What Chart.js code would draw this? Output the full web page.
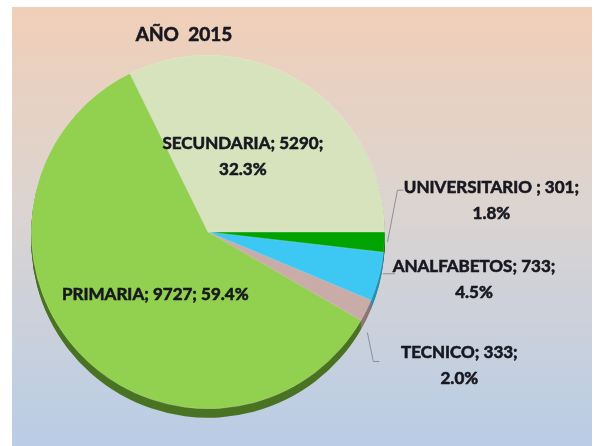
<!DOCTYPE html>
<html>
<head>
<meta charset="utf-8">
<script src="https://cdn.jsdelivr.net/npm/chart.js@4.4.1/dist/chart.umd.min.js"></script>
<style>
  body { margin: 0; background: #ffffff; }
  #fondo {
    position: absolute; left: 12px; top: 7px; width: 580px; height: 439px;
    background: linear-gradient(to bottom, #f0cfb8 0%, #dcd4d0 45%, #b9cde6 100%);
  }
  #grafico { position: absolute; left: 0; top: 0; }
</style>
</head>
<body>
<div id="fondo"></div>
<canvas id="grafico" width="595" height="446"></canvas>
<script>
let titulo = "AÑO  2015";
let categorias = ["UNIVERSITARIO ", "ANALFABETOS", "TECNICO", "PRIMARIA", "SECUNDARIA"];
let valores = [301, 733, 333, 9727, 5290];
let colores = ["#00a300", "#3cc8f2", "#c9aba8", "#92d050", "#d6e3bc"];
let coloresLado = ["#006b00", "#2a8fb0", "#8d7573", "#4a7324", "#98a584"];

// donde va cada etiqueta (desplazamientos desde el borde del sector o desde el centro)
let ubicaciones = [
  { modo: "fuera", dx: 107, dy: -42, guia: [[3, 0], [13, -52], [19, -52]] },
  { modo: "fuera", dx: 95, dy: 3, guia: [[4, -3], [16, -3]] },
  { modo: "fuera", dx: 93, dy: 55, guia: [[1, 22], [7, 51], [13, 51]] },
  { modo: "dentro", f: 0.47, dx: 8, dy: 6, unaLinea: true },
  { modo: "dentro", f: 0.47, dx: -9, dy: -5 }
];

let fuente = "bold 17px Lato, 'Liberation Sans', sans-serif";
let total = valores.reduce((a, b) => a + b, 0);

let pluginLado = {
  id: "lado",
  beforeDatasetsDraw(chart) {
    let ctx = chart.ctx;
    let arcos = chart.getDatasetMeta(0).data;
    ctx.save();
    for (let k = 9; k > 0; k--) {
      arcos.forEach((arco, i) => {
        let p = arco.getProps(["x", "y", "startAngle", "endAngle", "outerRadius"], true);
        ctx.beginPath();
        ctx.moveTo(p.x, p.y + k);
        ctx.arc(p.x, p.y + k, p.outerRadius, p.startAngle, p.endAngle);
        ctx.closePath();
        ctx.fillStyle = coloresLado[i];
        ctx.fill();
      });
    }
    ctx.restore();
  }
};

function texto(ctx, t, x, y) {
  ctx.strokeText(t, x, y);
  ctx.fillText(t, x, y);
}

let pluginEtiquetas = {
  id: "etiquetas",
  afterDatasetsDraw(chart) {
    let ctx = chart.ctx;
    let arcos = chart.getDatasetMeta(0).data;
    ctx.save();
    ctx.font = fuente;
    ctx.textAlign = "center";
    ctx.textBaseline = "middle";
    arcos.forEach((arco, i) => {
      let p = arco.getProps(["x", "y", "startAngle", "endAngle", "outerRadius"], true);
      let medio = (p.startAngle + p.endAngle) / 2;
      let u = ubicaciones[i];
      let pct = (valores[i] / total * 100).toFixed(1) + "%";
      let r = u.modo === "fuera" ? p.outerRadius : p.outerRadius * u.f;
      let ax = p.x + Math.cos(medio) * r;
      let ay = p.y + Math.sin(medio) * r;
      if (u.guia) {
        ctx.beginPath();
        ctx.strokeStyle = "#8a8f99";
        ctx.lineWidth = 1;
        u.guia.forEach((g, j) => {
          if (j === 0) ctx.moveTo(ax + g[0], ay + g[1]);
          else ctx.lineTo(ax + g[0], ay + g[1]);
        });
        ctx.stroke();
      }
      ctx.fillStyle = "#17171f";
      ctx.strokeStyle = "#17171f";
      ctx.lineWidth = 0.6;
      let tx = ax + u.dx;
      let ty = ay + u.dy;
      if (u.unaLinea) {
        texto(ctx, categorias[i] + "; " + valores[i] + "; " + pct, tx, ty);
      } else {
        texto(ctx, categorias[i] + "; " + valores[i] + ";", tx, ty - 13);
        texto(ctx, pct, tx, ty + 13);
      }
    });
    // titulo
    ctx.font = "bold 19px Lato, 'Liberation Sans', sans-serif";
    texto(ctx, titulo, chart.chartArea.left + chart.chartArea.width / 2 - 24, 35);
    ctx.restore();
  }
};

let grafico = new Chart(document.getElementById("grafico"), {
  type: "pie",
  data: {
    labels: categorias,
    datasets: [{
      data: valores,
      backgroundColor: colores,
      borderColor: "rgba(255,255,255,0.35)",
      borderWidth: 0.5
    }]
  },
  options: {
    responsive: false,
    animation: false,
    devicePixelRatio: 1,
    rotation: 90,
    layout: { padding: { left: 31, top: 55, right: 210, bottom: 37 } },
    plugins: {
      legend: { display: false },
      title: { display: false },
      tooltip: { enabled: false }
    }
  },
  plugins: [pluginLado, pluginEtiquetas]
});
</script>
</body>
</html>
